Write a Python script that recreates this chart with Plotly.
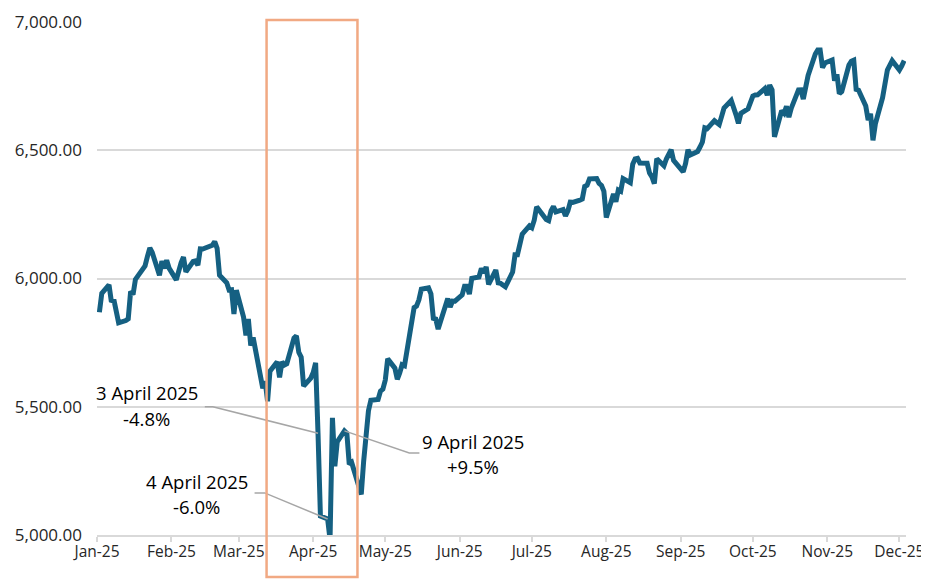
import plotly.graph_objects as go
import pandas as pd

# S&P 500 daily closes, 2025 (Jan 2 - Dec 3)
jan_dates = ["2025-01-02","2025-01-03","2025-01-06","2025-01-07","2025-01-08","2025-01-10","2025-01-13","2025-01-14","2025-01-15","2025-01-16","2025-01-17","2025-01-21","2025-01-22","2025-01-23","2025-01-24","2025-01-27","2025-01-28","2025-01-29","2025-01-30","2025-01-31"]
jan_close = [5868.55,5942.47,5975.38,5909.03,5918.25,5827.04,5836.22,5842.91,5949.91,5937.34,5996.66,6049.24,6086.37,6118.71,6101.24,6012.28,6067.70,6039.31,6071.17,6040.53]
feb_dates = ["2025-02-03","2025-02-04","2025-02-05","2025-02-06","2025-02-07","2025-02-10","2025-02-11","2025-02-12","2025-02-13","2025-02-14","2025-02-18","2025-02-19","2025-02-20","2025-02-21","2025-02-24","2025-02-25","2025-02-26","2025-02-27","2025-02-28"]
feb_close = [5994.57,6037.88,6061.48,6083.57,6025.99,6066.44,6068.50,6051.97,6115.07,6114.63,6129.58,6144.15,6117.52,6013.13,5983.25,5955.25,5956.06,5861.57,5954.50]
mar_dates = ["2025-03-03","2025-03-04","2025-03-05","2025-03-06","2025-03-07","2025-03-10","2025-03-11","2025-03-12","2025-03-13","2025-03-14","2025-03-17","2025-03-18","2025-03-19","2025-03-20","2025-03-21","2025-03-24","2025-03-25","2025-03-26","2025-03-27","2025-03-28","2025-03-31"]
mar_close = [5849.72,5778.15,5842.63,5738.52,5770.20,5614.56,5572.07,5599.30,5521.52,5638.94,5675.12,5614.66,5675.29,5662.89,5667.56,5767.57,5776.65,5712.20,5693.31,5580.94,5611.85]
apr_dates = ["2025-04-01","2025-04-02","2025-04-03","2025-04-04","2025-04-07","2025-04-08","2025-04-09","2025-04-10","2025-04-11","2025-04-14","2025-04-15","2025-04-16","2025-04-17","2025-04-21","2025-04-22","2025-04-23","2025-04-24","2025-04-25","2025-04-28","2025-04-29","2025-04-30"]
apr_close = [5633.07,5670.97,5396.52,5074.08,5062.25,4982.77,5456.90,5268.05,5363.36,5405.97,5396.63,5275.70,5282.70,5158.20,5287.76,5375.86,5484.77,5525.21,5528.75,5560.83,5569.06]
may_dates = ["2025-05-01","2025-05-02","2025-05-05","2025-05-06","2025-05-07","2025-05-08","2025-05-09","2025-05-12","2025-05-13","2025-05-14","2025-05-15","2025-05-16","2025-05-19","2025-05-20","2025-05-21","2025-05-22","2025-05-23","2025-05-27","2025-05-28","2025-05-29","2025-05-30"]
may_close = [5604.14,5686.67,5650.38,5606.91,5631.28,5663.94,5659.91,5844.19,5886.55,5892.58,5916.93,5958.38,5963.60,5940.46,5844.61,5842.01,5802.82,5921.54,5888.55,5912.17,5911.69]
jun_dates = ["2025-06-02","2025-06-03","2025-06-04","2025-06-05","2025-06-06","2025-06-09","2025-06-10","2025-06-11","2025-06-12","2025-06-13","2025-06-16","2025-06-17","2025-06-18","2025-06-20","2025-06-23","2025-06-24","2025-06-25","2025-06-26","2025-06-27","2025-06-30"]
jun_close = [5935.94,5970.37,5970.81,5939.30,6000.36,6005.88,6038.81,6022.24,6045.26,5976.97,6033.11,5982.72,5980.87,5967.84,6025.17,6092.18,6092.16,6141.02,6173.07,6204.95]
jul_dates = ["2025-07-01","2025-07-02","2025-07-03","2025-07-07","2025-07-08","2025-07-09","2025-07-10","2025-07-11","2025-07-14","2025-07-15","2025-07-16","2025-07-17","2025-07-18","2025-07-21","2025-07-22","2025-07-23","2025-07-24","2025-07-25","2025-07-28","2025-07-29","2025-07-30","2025-07-31"]
jul_close = [6198.01,6227.42,6279.35,6229.98,6225.52,6263.26,6280.46,6259.75,6268.56,6243.76,6263.70,6297.36,6296.79,6305.60,6309.62,6358.91,6363.35,6388.64,6389.77,6370.86,6362.90,6339.39]
aug_dates = ["2025-08-01","2025-08-04","2025-08-05","2025-08-06","2025-08-07","2025-08-08","2025-08-11","2025-08-12","2025-08-13","2025-08-14","2025-08-15","2025-08-18","2025-08-19","2025-08-20","2025-08-21","2025-08-22","2025-08-25","2025-08-26","2025-08-27","2025-08-28","2025-08-29"]
aug_close = [6238.01,6329.94,6299.19,6345.06,6340.00,6389.45,6373.45,6445.76,6466.58,6468.54,6449.80,6449.15,6411.37,6395.78,6370.17,6466.91,6439.32,6465.94,6481.40,6501.86,6460.26]
sep_dates = ["2025-09-02","2025-09-03","2025-09-04","2025-09-05","2025-09-08","2025-09-09","2025-09-10","2025-09-11","2025-09-12","2025-09-15","2025-09-16","2025-09-17","2025-09-18","2025-09-19","2025-09-22","2025-09-23","2025-09-24","2025-09-25","2025-09-26","2025-09-29","2025-09-30"]
sep_close = [6415.54,6448.26,6502.08,6481.50,6495.15,6512.61,6532.04,6587.47,6584.29,6615.28,6606.76,6600.35,6631.96,6664.36,6693.75,6656.92,6637.97,6604.72,6643.70,6661.21,6688.46]
oct_dates = ["2025-10-01","2025-10-02","2025-10-03","2025-10-06","2025-10-07","2025-10-08","2025-10-09","2025-10-10","2025-10-13","2025-10-14","2025-10-15","2025-10-16","2025-10-17","2025-10-20","2025-10-21","2025-10-22","2025-10-23","2025-10-24","2025-10-27","2025-10-28","2025-10-29","2025-10-30","2025-10-31"]
oct_close = [6711.20,6715.35,6715.79,6740.28,6714.59,6753.72,6735.11,6552.51,6654.72,6644.31,6671.06,6629.07,6664.01,6735.13,6735.35,6699.40,6738.44,6791.69,6875.16,6890.89,6890.59,6822.34,6840.20]
nov_dates = ["2025-11-03","2025-11-04","2025-11-05","2025-11-06","2025-11-07","2025-11-10","2025-11-11","2025-11-12","2025-11-13","2025-11-14","2025-11-17","2025-11-18","2025-11-19","2025-11-20","2025-11-21","2025-11-24","2025-11-25","2025-11-26","2025-11-28"]
nov_close = [6851.97,6771.55,6796.29,6720.32,6728.80,6832.43,6846.61,6850.92,6737.49,6734.11,6672.41,6617.32,6642.16,6538.76,6602.99,6705.12,6765.88,6812.61,6849.09]
dec_dates = ["2025-12-01","2025-12-02","2025-12-03"]
dec_close = [6812.63,6829.37,6849.72]

tick_dates = ["2025-01-01","2025-02-01","2025-03-01","2025-04-01","2025-05-01","2025-06-01","2025-07-01","2025-08-01","2025-09-01","2025-10-01","2025-11-01","2025-12-01"]
tick_labels = ["Jan-25","Feb-25","Mar-25","Apr-25","May-25","Jun-25","Jul-25","Aug-25","Sep-25","Oct-25","Nov-25","Dec-25"]
y_ticks = [5000, 5500, 6000, 6500, 7000]

dates = (jan_dates + feb_dates + mar_dates + apr_dates + may_dates + jun_dates +
         jul_dates + aug_dates + sep_dates + oct_dates + nov_dates + dec_dates)
closes = (jan_close + feb_close + mar_close + apr_close + may_close + jun_close +
          jul_close + aug_close + sep_close + oct_close + nov_close + dec_close)
series = pd.Series(closes, index=pd.to_datetime(dates))

LINE = "#156082"
GRID = "#D9D9D9"
LEADER = "#A6A6A6"
BOX = "#F1A983"
FONT = "Open Sans"
TICK = "#262626"

fig = go.Figure()
fig.add_trace(go.Scatter(x=series.index, y=series.values, mode="lines",
                         line=dict(color=LINE, width=5), hoverinfo="skip",
                         showlegend=False))

# leader lines (label side -> data point)
leaders = [
    (["2025-02-14 21:00", "2025-02-18 05:00", "2025-04-03"], [5500, 5500, series["2025-04-03"]]),
    (["2025-03-07 14:00", "2025-03-11 19:00", "2025-04-07"], [5164, 5164, series["2025-04-07"]]),
    (["2025-05-15 05:00", "2025-05-11", "2025-04-14"], [5320, 5320, series["2025-04-14"]]),
]
for lx, ly in leaders:
    fig.add_trace(go.Scatter(x=lx, y=ly, mode="lines", line=dict(color=LEADER, width=1.5),
                             hoverinfo="skip", showlegend=False))

labels = [
    ("2025-01-21 19:00", 5557, "3 April 2025"),
    ("2025-01-21 19:00", 5456, "-4.8%"),
    ("2025-02-11 12:00", 5207, "4 April 2025"),
    ("2025-02-11 12:00", 5113, "-6.0%"),
    ("2025-06-06 14:00", 5366, "9 April 2025"),
    ("2025-06-06 14:00", 5269, "+9.5%"),
]
for ax_, ay_, t in labels:
    fig.add_annotation(x=ax_, y=ay_, xref="x", yref="y", text=t, showarrow=False,
                       xanchor="center", yanchor="middle",
                       font=dict(family=FONT, size=18.5, color="#000000"))

fig.add_shape(type="rect", xref="x", yref="paper",
              x0="2025-03-12 14:00", x1="2025-04-19 10:00", y0=-0.082, y1=1.004,
              line=dict(color=BOX, width=2.5), fillcolor="rgba(0,0,0,0)", layer="above")

# page body has an 8px default margin, so the figure is sized/offset to compensate
fig.update_layout(
    width=921, height=572,
    margin=dict(l=89, r=23, t=14, b=45, autoexpand=False),
    paper_bgcolor="white", plot_bgcolor="white",
    font=dict(family=FONT, size=15, color=TICK),
    xaxis=dict(type="date", range=["2025-01-01", "2025-12-03 18:00"], automargin=False,
               tickmode="array", tickvals=tick_dates, ticktext=tick_labels,
               showgrid=False, showline=True, linecolor=GRID, linewidth=1.5,
               ticks="outside", ticklen=5, tickcolor=GRID, tickwidth=1.5,
               ticklabelstandoff=-3,
               tickfont=dict(family=FONT, size=15.5, color=TICK), zeroline=False),
    yaxis=dict(range=[5000, 7000], tickmode="array", tickvals=y_ticks, automargin=False,
               tickformat=",.2f", showgrid=True, gridcolor=GRID, gridwidth=1.5,
               zeroline=False, showline=False, ticks="",
               ticklabelstandoff=14,
               tickfont=dict(family=FONT, size=17, color=TICK)),
)

fig.write_html("out.html")
